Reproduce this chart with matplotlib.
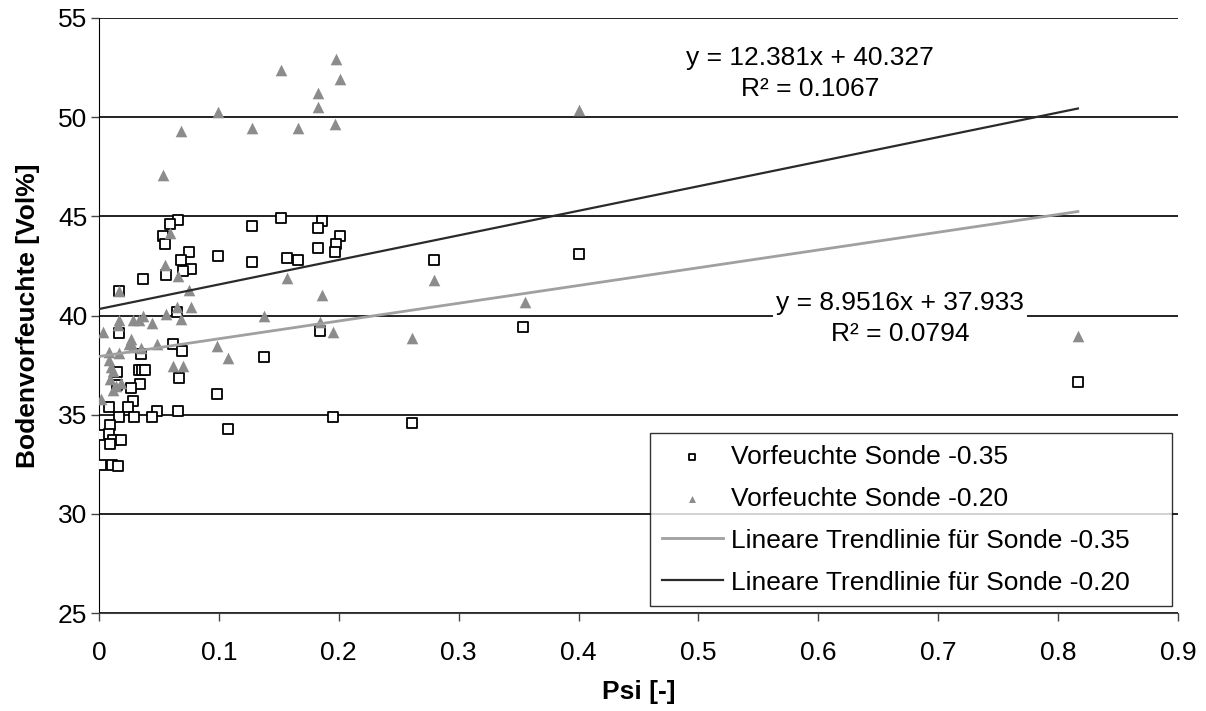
import matplotlib
matplotlib.use("Agg")
import matplotlib.pyplot as plt
import numpy as np

plt.rcParams['font.family'] = ['Liberation Sans', 'DejaVu Sans']

# Vorfeuchte Sonde -0.35 (Quadrate)
psi_35 = [0.017, 0.035, 0.062, 0.069, 0.015, 0.033, 0.036, 0.038, 0.067, 0.034,
          0.027, 0.015, 0.098, 0.028, 0.024, 0.008, 0.048, 0.066, 0.017, 0.029,
          0.044, 0.009, 0.003, 0.008, 0.012, 0.018, 0.009, 0.108, 0.002, 0.011,
          0.016, 0.065, 0.066, 0.059, 0.053, 0.055, 0.075, 0.068, 0.099, 0.077,
          0.070, 0.056, 0.037, 0.017, 0.128, 0.152, 0.186, 0.183, 0.201, 0.198,
          0.183, 0.197, 0.128, 0.157, 0.166, 0.184, 0.138, 0.195, 0.354, 0.261,
          0.279, 0.400, 0.8165]
boden_35 = [39.1, 38.05, 38.55, 38.2, 37.15, 37.25, 37.25, 37.25, 36.85, 36.55,
            36.35, 36.5, 36.05, 35.7, 35.4, 35.4, 35.2, 35.2, 34.9, 34.9,
            34.9, 34.5, 34.0, 34.05, 33.7, 33.7, 33.5, 34.3, 32.45, 32.45,
            32.4, 40.2, 44.8, 44.6, 44.0, 43.6, 43.2, 42.8, 43.0, 42.35,
            42.25, 42.05, 41.85, 41.25, 44.5, 44.9, 44.75, 44.4, 44.0, 43.6,
            43.4, 43.2, 42.7, 42.9, 42.8, 39.2, 37.9, 34.9, 39.4, 34.6,
            42.8, 43.1, 36.65]

# Vorfeuchte Sonde -0.20 (Dreiecke)
psi_20 = [0.099, 0.152, 0.198, 0.201, 0.183, 0.183, 0.128, 0.166, 0.197, 0.053,
          0.059, 0.055, 0.066, 0.075, 0.017, 0.068, 0.157, 0.186, 0.138, 0.184,
          0.195, 0.098, 0.108, 0.355, 0.261, 0.279, 0.400, 0.8165, 0.065, 0.077,
          0.056, 0.037, 0.033, 0.028, 0.068, 0.044, 0.017, 0.016, 0.003, 0.027,
          0.025, 0.028, 0.035, 0.048, 0.008, 0.017, 0.008, 0.062, 0.070, 0.010,
          0.012, 0.009, 0.018, 0.014, 0.012, 0.002]
boden_20 = [50.25, 52.4, 52.95, 51.9, 51.2, 50.5, 49.45, 49.45, 49.65, 47.1,
            44.15, 42.55, 42.0, 41.3, 41.25, 49.3, 41.9, 41.05, 39.95, 39.65,
            39.15, 38.45, 37.85, 40.7, 38.85, 41.8, 50.35, 38.95, 40.45, 40.45,
            40.1, 40.0, 39.75, 39.75, 39.8, 39.6, 39.75, 39.5, 39.15, 38.8,
            38.55, 38.4, 38.35, 38.55, 38.15, 38.1, 37.75, 37.45, 37.45, 37.4,
            37.2, 36.8, 36.6, 36.45, 36.25, 35.8]

# Trendlinien (Excel)
steigung_35, achse_35, r2_35 = 8.9516, 37.933, 0.0794
steigung_20, achse_20, r2_20 = 12.381, 40.327, 0.1067

fig = plt.figure(figsize=(12.06, 7.11), dpi=100)
ax = fig.add_axes([0.0821, 0.1378, 0.8947, 0.8369])

fs = 19

ax.scatter(psi_35, boden_35, marker='s', s=52, facecolor='white',
           edgecolor='black', linewidth=1.3, zorder=3, label='Vorfeuchte Sonde -0.35')
ax.scatter(psi_20, boden_20, marker='^', s=70, color='#8c8c8c',
           linewidth=0, zorder=4, label='Vorfeuchte Sonde -0.20')

xl35 = np.array([0, max(psi_35)])
xl20 = np.array([0, max(psi_20)])
ax.plot(xl35, steigung_35 * xl35 + achse_35, color='#a0a0a0', lw=2, zorder=5,
        label='Lineare Trendlinie für Sonde -0.35')
ax.plot(xl20, steigung_20 * xl20 + achse_20, color='#2a2a2a', lw=1.6, zorder=5,
        label='Lineare Trendlinie für Sonde -0.20')

ax.text(0.593, 52.2, f"y = {steigung_20}x + {achse_20}\nR² = {r2_20}",
        ha='center', va='center', fontsize=fs, linespacing=1.4, zorder=6)
ax.text(0.668, 39.85, f"y = {steigung_35}x + {achse_35}\nR² = {r2_35}",
        ha='center', va='center', fontsize=fs, linespacing=1.4, zorder=6,
        bbox=dict(facecolor='white', edgecolor='none', pad=2))

ax.set_xlim(0, 0.9)
ax.set_ylim(25, 55)
ax.set_xticks(np.arange(0, 0.91, 0.1))
ax.set_xticklabels(['0', '0.1', '0.2', '0.3', '0.4', '0.5', '0.6', '0.7', '0.8', '0.9'])
ax.set_yticks(np.arange(25, 56, 5))
ax.yaxis.grid(True, color='#222222', lw=1.4, zorder=0)
ax.set_axisbelow(True)
ax.tick_params(axis='both', direction='out', length=6, width=1, labelsize=fs,
               color='#444444')
ax.tick_params(axis='x', pad=14)
ax.tick_params(axis='y', pad=2.5)

for s in ['top', 'right']:
    ax.spines[s].set_visible(False)
ax.spines['left'].set_color('black')
ax.spines['bottom'].set_color('#444444')

ax.set_xlabel('Psi [-]', fontsize=fs, fontweight='bold', labelpad=11)
ax.set_ylabel('Bodenvorfeuchte [Vol%]', fontsize=fs, fontweight='bold', labelpad=13)

leg = ax.legend(loc='lower left', bbox_to_anchor=(0.5107, 0.011, 0.4838, 0.2),
                mode='expand', borderaxespad=0,
                fontsize=fs, frameon=True, fancybox=False, markerscale=0.6,
                handlelength=2.3, handletextpad=0.3, labelspacing=0.68,
                borderpad=0.45)
leg.get_frame().set_edgecolor('black')
leg.get_frame().set_linewidth(1)
leg.set_zorder(10)

fig.savefig('out.png', dpi=100)
